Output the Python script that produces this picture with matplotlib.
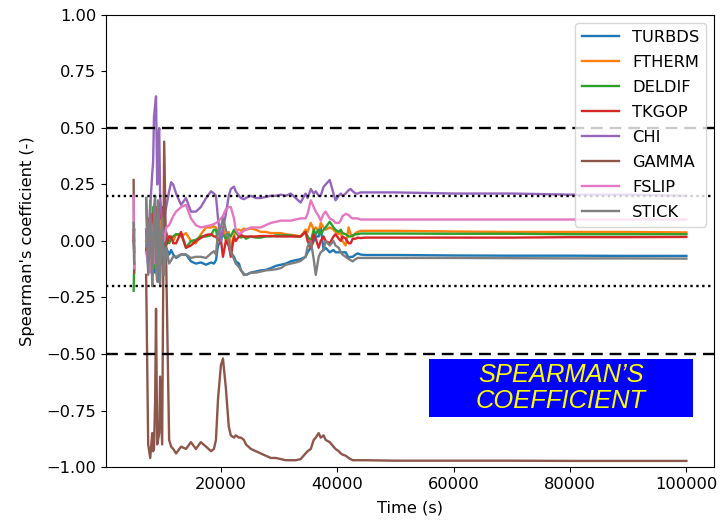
import numpy as np
import matplotlib
matplotlib.use("Agg")
import matplotlib.pyplot as plt
from matplotlib.patches import Rectangle

nan = np.nan

# Time grid (s)
time = [5000, 5100, 6000, 7150, 7500, 7850, 8200, 8350, 8500, 8700,
        8850, 9050, 9200, 9400, 9550, 9900, 10250, 10600, 11100, 11450,
        11800, 12300, 13150, 14000, 14850, 15700, 16550, 17450, 18300, 18800,
        19150, 19500, 20000, 20350, 20850, 21350, 21700, 22250, 22550, 23100,
        23450, 23950, 24300, 25150, 26000, 26850, 27700, 28600, 29450, 30300,
        31150, 32000, 32850, 33700, 34550, 34900, 35450, 35950, 36300, 36800,
        37150, 37650, 38000, 38700, 39350, 39700, 40250, 40600, 40900, 41450,
        41950, 42300, 42650, 43150, 43500, 44000, 44850, 50000, 60000, 70000,
        80000, 90000, 100000]

turbds = [0.0, -0.05, nan, 0.05, -0.12, 0.10, -0.15, -0.05, 0.02, -0.14,
          -0.10, 0.05, -0.18, -0.12, -0.02, -0.10, 0.02, -0.03, -0.06, -0.04,
          -0.06, -0.075, -0.06, -0.06, -0.09, -0.10, -0.095, -0.105, -0.095, -0.10,
          -0.085, -0.02, 0.0, 0.04, 0.02, -0.02, -0.05, -0.07, -0.09, -0.10,
          -0.13, -0.145, -0.15, -0.14, -0.135, -0.13, -0.128, -0.12, -0.11, -0.105,
          -0.10, -0.09, -0.085, -0.08, -0.07, -0.05, -0.03, 0.0, 0.02, 0.02,
          0.06, -0.04, -0.03, -0.05, -0.04, -0.05, -0.05, -0.05, -0.05, -0.05,
          -0.075, -0.07, -0.07, -0.06, -0.055, -0.06, -0.062, -0.062, -0.064, -0.065,
          -0.065, -0.066, -0.066]

ftherm = [0.02, -0.03, nan, 0.0, 0.05, -0.10, 0.08, 0.12, -0.05, 0.0,
          0.10, -0.08, 0.0, 0.05, 0.12, 0.02, 0.05, 0.0, 0.02, 0.01,
          0.0, 0.03, 0.02, 0.035, 0.0, -0.01, 0.03, 0.06, 0.06, 0.065,
          0.06, 0.04, 0.02, 0.06, 0.0, 0.04, -0.03, 0.02, 0.05, 0.05,
          0.045, 0.055, 0.05, 0.055, 0.05, 0.04, 0.04, 0.035, 0.035, 0.035,
          0.03, 0.027, 0.025, 0.02, 0.05, 0.04, 0.08, 0.05, 0.06, 0.04,
          0.08, 0.06, 0.05, 0.06, 0.05, 0.04, 0.03, 0.04, 0.0, -0.02,
          0.06, 0.03, 0.02, 0.035, 0.04, 0.045, 0.045, 0.045, 0.042, 0.04,
          0.04, 0.04, 0.038]

deldif = [-0.22, -0.10, nan, 0.19, -0.10, 0.10, -0.05, 0.15, 0.05, -0.12,
          -0.08, 0.12, 0.08, -0.06, -0.03, 0.06, 0.03, 0.04, -0.01, 0.01,
          0.02, 0.03, 0.03, -0.03, 0.0, 0.005, 0.02, 0.02, 0.025, 0.05,
          0.05, 0.0, 0.02, 0.03, 0.01, 0.03, 0.02, 0.05, 0.04, 0.02,
          0.015, 0.02, 0.01, 0.02, 0.015, 0.015, 0.02, 0.02, 0.025, 0.025,
          0.025, 0.025, 0.02, 0.02, 0.04, 0.02, 0.0, 0.05, 0.03, 0.05,
          0.03, 0.05, 0.06, 0.085, 0.06, 0.05, 0.04, 0.05, 0.035, 0.03,
          0.02, 0.02, 0.025, 0.03, 0.03, 0.033, 0.033, 0.033, 0.032, 0.032,
          0.03, 0.03, 0.03]

tkgop = [0.0, 0.05, nan, -0.05, 0.10, -0.08, 0.12, -0.02, 0.05, 0.14,
         0.15, 0.0, -0.05, 0.17, 0.10, 0.15, 0.08, -0.02, 0.02, 0.02,
         -0.01, -0.01, 0.04, -0.03, -0.02, 0.0, 0.013, 0.027, 0.03, 0.02,
         0.02, 0.005, 0.005, -0.07, 0.0, -0.02, -0.07, 0.02, 0.0, 0.02,
         0.027, 0.02, 0.02, 0.02, 0.02, 0.022, 0.022, 0.022, 0.02, 0.02,
         0.02, 0.02, 0.02, 0.02, 0.04, 0.0, -0.03, 0.03, 0.01, -0.03,
         0.0, 0.02, 0.0, -0.01, 0.02, 0.03, 0.01, 0.0, 0.02, 0.01,
         -0.01, -0.01, 0.01, 0.01, 0.015, 0.013, 0.015, 0.015, 0.015, 0.015,
         0.017, 0.017, 0.018]

chi = [0.05, 0.0, nan, 0.05, -0.05, 0.15, 0.30, 0.35, 0.55, 0.60,
       0.64, 0.25, 0.45, 0.50, 0.20, 0.08, 0.10, 0.15, 0.22, 0.26,
       0.25, 0.21, 0.16, 0.19, 0.13, 0.13, 0.15, 0.19, 0.22, 0.21,
       0.20, 0.10, 0.0, 0.05, 0.12, 0.20, 0.23, 0.24, 0.22, 0.20,
       0.19, 0.185, 0.19, 0.20, 0.19, 0.19, 0.195, 0.20, 0.20, 0.205,
       0.20, 0.21, 0.19, 0.17, 0.21, 0.19, 0.23, 0.21, 0.22, 0.20,
       0.20, 0.24, 0.25, 0.27, 0.21, 0.18, 0.20, 0.21, 0.20, 0.21,
       0.225, 0.23, 0.22, 0.21, 0.21, 0.215, 0.215, 0.215, 0.21, 0.21,
       0.205, 0.205, 0.20]

gamma = [0.27, -0.14, nan, -0.15, -0.90, -0.96, -0.85, -0.93, -0.92, -0.70,
         -0.30, -0.90, -0.88, -0.85, -0.60, -0.90, 0.44, -0.10, -0.88, -0.91,
         -0.92, -0.94, -0.91, -0.92, -0.89, -0.92, -0.89, -0.91, -0.93, -0.92,
         -0.88, -0.70, -0.55, -0.52, -0.65, -0.82, -0.86, -0.87, -0.86, -0.87,
         -0.87, -0.88, -0.90, -0.92, -0.93, -0.94, -0.95, -0.96, -0.96, -0.965,
         -0.97, -0.97, -0.97, -0.965, -0.94, -0.93, -0.92, -0.88, -0.87, -0.85,
         -0.87, -0.86, -0.88, -0.89, -0.91, -0.92, -0.93, -0.94, -0.945, -0.95,
         -0.96, -0.965, -0.97, -0.97, -0.97, -0.97, -0.97, -0.972, -0.972, -0.972,
         -0.973, -0.973, -0.973]

fslip = [0.20, -0.12, nan, -0.05, -0.10, -0.14, 0.0, 0.05, 0.08, -0.10,
         -0.05, 0.06, 0.10, -0.08, 0.02, 0.05, 0.0, 0.06, 0.07, 0.09,
         0.11, 0.13, 0.15, 0.16, 0.10, 0.07, 0.06, 0.065, 0.07, 0.075,
         0.08, 0.085, 0.10, 0.11, 0.14, 0.15, 0.15, 0.10, 0.05, 0.03,
         0.035, 0.045, 0.05, 0.06, 0.06, 0.06, 0.07, 0.08, 0.085, 0.09,
         0.09, 0.09, 0.095, 0.10, 0.10, 0.12, 0.18, 0.15, 0.13, 0.11,
         0.09, 0.12, 0.13, 0.10, 0.09, 0.08, 0.08, 0.09, 0.11, 0.12,
         0.115, 0.105, 0.10, 0.10, 0.10, 0.095, 0.095, 0.095, 0.095, 0.095,
         0.095, 0.095, 0.095]

stick = [0.08, -0.10, nan, 0.19, -0.15, 0.18, -0.20, -0.05, 0.15, 0.20,
         -0.12, -0.18, 0.18, 0.05, -0.20, 0.10, -0.15, -0.03, -0.10, -0.085,
         -0.07, -0.07, -0.06, -0.06, -0.075, -0.07, -0.07, -0.075, -0.055, -0.045,
         -0.06, 0.04, 0.06, 0.10, 0.05, 0.0, -0.05, -0.08, -0.10, -0.115,
         -0.13, -0.15, -0.15, -0.14, -0.14, -0.135, -0.13, -0.128, -0.125, -0.12,
         -0.105, -0.10, -0.095, -0.088, -0.07, -0.025, 0.0, -0.08, -0.15, -0.07,
         -0.05, -0.04, 0.0, -0.02, 0.0, -0.02, -0.03, -0.05, -0.06, -0.07,
         -0.08, -0.085, -0.09, -0.08, -0.075, -0.075, -0.075, -0.075, -0.075, -0.076,
         -0.077, -0.077, -0.078]

labels = ["TURBDS", "FTHERM", "DELDIF", "TKGOP", "CHI", "GAMMA", "FSLIP", "STICK"]
series = [turbds, ftherm, deldif, tkgop, chi, gamma, fslip, stick]

yticks = [-1.00, -0.75, -0.50, -0.25, 0.00, 0.25, 0.50, 0.75, 1.00]
xticks = [20000, 40000, 60000, 80000, 100000]

plt.rcParams['font.size'] = 11.7

fig = plt.figure(figsize=(7.23, 5.20), dpi=100)
ax = fig.add_axes([0.1466, 0.1019, 0.8410, 0.8693])

for lab, vals in zip(labels, series):
    ax.plot(time, vals, label=lab, lw=1.7)

ax.axhline(0.5, color='black', lw=1.7, ls=(0, (5.0, 2.9)))
ax.axhline(-0.5, color='black', lw=1.7, ls=(0, (5.0, 2.9)))
ax.axhline(0.2, color='black', lw=1.7, ls=(0, (1.0, 1.5)))
ax.axhline(-0.2, color='black', lw=1.7, ls=(0, (1.0, 1.5)))

ax.set_xlim(250, 104750)
ax.set_ylim(-1, 1)
ax.set_yticks(yticks)
ax.set_yticklabels([f"{v:.2f}".replace("-", "\u2212") for v in yticks])
ax.set_xticks(xticks)
ax.set_xlabel("Time (s)", labelpad=6.5)
ax.set_ylabel("Spearman's coefficient (-)", labelpad=8.5)
ax.legend(loc='upper right', labelspacing=0.62, handlelength=2.3)

fig.add_artist(Rectangle((0.5934, 0.1981), 0.3651, 0.1115,
                         transform=fig.transFigure, facecolor='#0000ff',
                         edgecolor='none', zorder=5))
fig.text(0.776, 0.2538, "SPEARMAN\u2019S\nCOEFFICIENT", ha='center', va='center',
         color='#ffff00', fontsize=18.4, style='italic',
         family=['Liberation Sans', 'DejaVu Sans'], linespacing=1.1, zorder=6)

fig.savefig("out.png", dpi=100)
